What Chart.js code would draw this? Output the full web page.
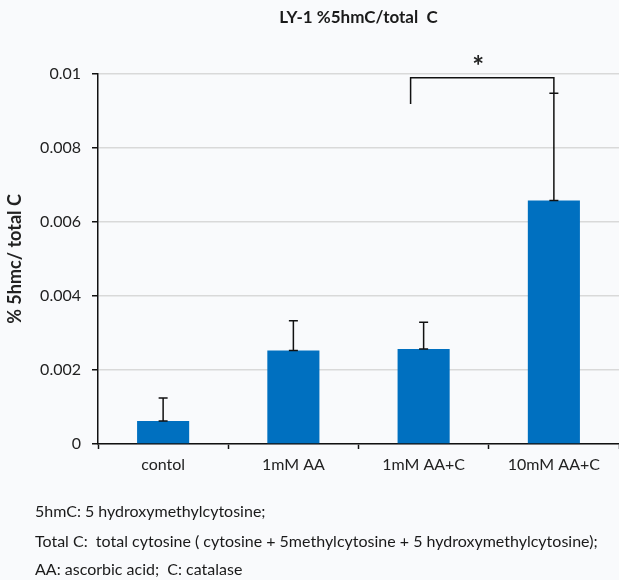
<!DOCTYPE html>
<html><head><meta charset="utf-8">
<script src="https://cdn.jsdelivr.net/npm/chart.js@4.4.1/dist/chart.umd.min.js"></script>
<style>
html,body{margin:0;padding:0;background:#f9fafc;}
#wrap{position:relative;width:619px;height:580px;overflow:hidden;}
canvas{position:absolute;left:0;top:0;}
.note{position:absolute;left:35px;font-family:Lato,sans-serif;font-size:16px;line-height:20px;color:#1a1a1a;white-space:pre;}
</style></head><body>
<div id="wrap">
<canvas id="c" width="619" height="580"></canvas>
<div class="note" style="top:501px">5hmC: 5 hydroxymethylcytosine;</div>
<div class="note" style="top:531px">Total C:  total cytosine ( cytosine + 5methylcytosine + 5 hydroxymethylcytosine);</div>
<div class="note" style="top:559px">AA: ascorbic acid;  C: catalase</div>
</div>
<script>
const categories = ['contol', '1mM AA', '1mM AA+C', '10mM AA+C'];
const means = [0.00062, 0.00253, 0.00257, 0.00658];
const errors = [0.00062, 0.00080, 0.00072, 0.00290];
const yTickValues = [0, 0.002, 0.004, 0.006, 0.008, 0.01];
const chartTitle = 'LY-1 %5hmC/total  C';
const yTitle = '% 5hmc/ total C';
// significance bracket: from category index to category index, top value, left-leg end value, label
const sigFrom = 2, sigTo = 3, sigTop = 0.0099, sigLeftEnd = 0.00919, sigLabel = '*';

const FONT = 'Lato, sans-serif';

const overlay = {
  id: 'overlay',
  afterDatasetsDraw(chart) {
    const ctx = chart.ctx;
    const x = chart.scales.x, y = chart.scales.y;
    const area = chart.chartArea;
    ctx.save();
    ctx.strokeStyle = '#111';
    ctx.lineWidth = 1.5;
    means.forEach((m, i) => {
      const cx = x.getPixelForValue(i);
      const y0 = y.getPixelForValue(m);
      const y1 = y.getPixelForValue(m + errors[i]);
      ctx.beginPath();
      ctx.moveTo(cx, y0); ctx.lineTo(cx, y1);
      ctx.moveTo(cx - 4.5, y1); ctx.lineTo(cx + 4.5, y1);
      ctx.moveTo(cx - 4.5, y0); ctx.lineTo(cx + 4.5, y0);
      ctx.stroke();
    });
    const lx = x.getPixelForValue(sigFrom) - 0.1 * (x.getPixelForValue(1) - x.getPixelForValue(0));
    const rx = x.getPixelForValue(sigTo);
    const ty = y.getPixelForValue(sigTop);
    ctx.beginPath();
    ctx.moveTo(lx, y.getPixelForValue(sigLeftEnd));
    ctx.lineTo(lx, ty);
    ctx.lineTo(rx, ty);
    ctx.lineTo(rx, y.getPixelForValue(means[sigTo] + errors[sigTo]));
    ctx.stroke();
    ctx.fillStyle = '#222';
    ctx.font = 'bold 28px ' + FONT;
    ctx.textAlign = 'center';
    ctx.textBaseline = 'middle';
    ctx.fillText(sigLabel, (lx + rx) / 2 - 4, ty - 11);
    ctx.font = 'bold 17px ' + FONT;
    ctx.fillStyle = '#1a1a1a';
    ctx.fillText(chartTitle, (area.left + area.right) / 2, 18);
    ctx.restore();
  }
};

new Chart(document.getElementById('c'), {
  type: 'bar',
  data: {
    labels: categories,
    datasets: [{
      data: means,
      backgroundColor: '#0070c0',
      borderWidth: 0,
      barPercentage: 0.4,
      categoryPercentage: 1.0
    }]
  },
  options: {
    responsive: false,
    animation: false,
    devicePixelRatio: 1,
    layout: { padding: { top: 74, left: 0, right: 0, bottom: 0 } },
    plugins: { legend: { display: false }, title: { display: false }, tooltip: { enabled: false } },
    scales: {
      x: {
        grid: { drawOnChartArea: false, drawTicks: true, tickLength: 5, tickColor: '#111', tickWidth: 1.5 },
        border: { color: '#111', width: 1.5 },
        ticks: { color: '#222', font: { family: FONT, size: 16 }, padding: 6 },
        afterFit(scale) { scale.height = 136; }
      },
      y: {
        min: 0, max: 0.01,
        afterBuildTicks(scale) { scale.ticks = yTickValues.map(v => ({ value: v })); },
        grid: { color: '#d9d9d9', lineWidth: 1.5, tickLength: 6, tickColor: '#111', tickWidth: 1.5 },
        border: { color: '#111', width: 1.5 },
        ticks: {
          color: '#222', font: { family: FONT, size: 16 }, padding: 11,
          callback: v => String(+(+v).toFixed(3))
        },
        title: { display: true, text: yTitle, color: '#222', font: { family: FONT, size: 18, weight: 'bold' }, padding: { top: 4, bottom: 0 } },
        afterFit(scale) { scale.width = 98; }
      }
    }
  },
  plugins: [overlay]
});
</script>
</body></html>
